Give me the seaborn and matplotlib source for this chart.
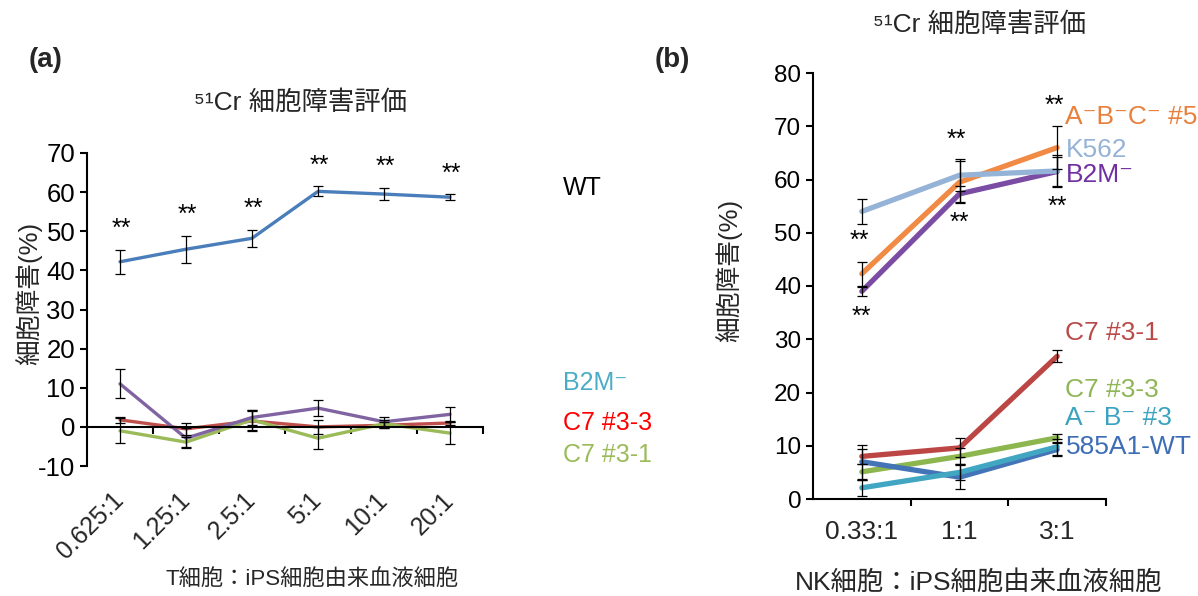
import numpy as np
import pandas as pd
import matplotlib
matplotlib.use("Agg")
import matplotlib.pyplot as plt
import seaborn as sns

# ---------------- data: panel (a) ----------------
ratios_a = ["0.625:1", "1.25:1", "2.5:1", "5:1", "10:1", "20:1"]
wt_a = [42.2, 45.4, 48.2, 60.2, 59.5, 58.7]
wt_a_err = [3.0, 3.5, 2.1, 1.3, 1.5, 0.7]
purple_a = [11.0, -2.9, 2.4, 4.8, 1.3, 3.2]
purple_a_err = [3.7, 2.5, 1.9, 2.0, 1.3, 2.0]
red_a = [1.8, -0.5, 1.5, 0.0, 0.4, 1.0]
red_a_err = [0.7, 1.5, 2.5, 1.8, 0.8, 0.6]
green_a = [-1.0, -3.9, 1.8, -2.9, 0.8, -1.6]
green_a_err = [3.2, 1.3, 2.5, 2.8, 1.0, 2.8]

# ---------------- data: panel (b) ----------------
ratios_b = ["0.33:1", "1:1", "3:1"]
b2m_b = [39.0, 57.3, 61.5]
b2m_b_err = [0.8, 1.5, 2.8]
abc5_b = [42.3, 59.5, 66.0]
abc5_b_err = [2.3, 4.0, 4.0]
k562_b = [54.0, 60.8, 61.6]
k562_b_err = [2.3, 3.0, 3.0]
c731_b = [8.0, 9.6, 26.8]
c731_b_err = [1.4, 1.8, 1.1]
c733_b = [5.1, 8.0, 11.5]
c733_b_err = [1.5, 1.5, 0.8]
wt585_b = [7.0, 4.1, 9.3]
wt585_b_err = [3.2, 2.2, 1.2]
ab3_b = [2.1, 5.0, 9.8]
ab3_b_err = [1.5, 1.5, 1.5]

sns.set_theme(style="white")
plt.rcParams["font.family"] = ["Liberation Sans", "Noto Sans CJK JP", "DejaVu Sans"]
plt.rcParams["axes.unicode_minus"] = False

W, H = 1198, 596
fig = plt.figure(figsize=(W / 100, H / 100), dpi=100)


def px_axes(x0, y0, x1, y1):
    return fig.add_axes([x0 / W, 1 - y1 / H, (x1 - x0) / W, (y1 - y0) / H])


def style_axes(ax):
    for s in ["top", "right"]:
        ax.spines[s].set_visible(False)
    for s in ["left", "bottom"]:
        ax.spines[s].set_color("black")
        ax.spines[s].set_linewidth(1.5)
    ax.tick_params(axis="y", which="major", direction="out", length=5, width=1.5,
                   color="black", left=True, labelcolor="black")
    ax.tick_params(axis="x", which="minor", direction="out", length=5, width=1.5,
                   color="black", bottom=True)
    ax.tick_params(axis="x", which="major", length=0, bottom=True)
    ax.grid(False)
    ax.set_facecolor("white")


STAR_FS = 18

# ====================== panel (a) ======================
axA = px_axes(87, 153, 483, 466)
series_a = [
    ("C7 red", red_a, red_a_err, "#c0504d"),
    ("C7 green", green_a, green_a_err, "#9bbb59"),
    ("B2M purple", purple_a, purple_a_err, "#8064a2"),
    ("WT", wt_a, wt_a_err, "#4a7ebb"),
]
rows = []
for name, vals, errs, col in series_a:
    for i, v in enumerate(vals):
        rows.append({"x": i, "y": v, "series": name})
dfA = pd.DataFrame(rows)
palA = {n: c for n, _, _, c in series_a}
sns.lineplot(data=dfA, x="x", y="y", hue="series", hue_order=[s[0] for s in series_a],
             palette=palA, linewidth=2.4, legend=False, sort=False, ax=axA)
for name, vals, errs, col in series_a:
    axA.errorbar(range(len(vals)), vals, yerr=errs, fmt="none", ecolor="black",
                 elinewidth=0.9, capsize=3.5, capthick=0.9, zorder=5)

style_axes(axA)
axA.set_xlim(-0.5, 5.5)
axA.set_ylim(-10, 70)
axA.set_yticks(np.arange(-10, 71, 10))
axA.set_yticklabels([str(v) for v in range(-10, 71, 10)], fontsize=18.5)
axA.spines["bottom"].set_position(("data", 0))
axA.set_xticks(range(len(ratios_a)))
axA.set_xticklabels(ratios_a, rotation=45, ha="right", va="center",
                    rotation_mode="anchor", fontsize=18)
axA.set_xticks(np.arange(0.5, 6, 1), minor=True)
axA.tick_params(axis="x", which="major", pad=50)
axA.set_xlabel("T細胞：iPS細胞由来血液細胞", fontsize=16)
axA.xaxis.set_label_coords((312 - 87) / 396, (466 - 580) / 313)
axA.xaxis.label.set_va("center")
axA.set_ylabel("細胞障害(%)", fontsize=18.5)
axA.yaxis.set_label_coords((42 - 87) / 396, (466 - 293) / 313)

for i, (v, e) in enumerate(zip(wt_a, wt_a_err)):
    axA.annotate("**", xy=(i, v + e), xytext=(1, 10), textcoords="offset points",
                 ha="center", va="baseline", fontsize=STAR_FS, color="black")

labels_a = [("WT", 61.1, "black"), ("B2M⁻", 11.3, "#4bacc6"),
            ("C7 #3-3", 1.0, "#ff0000"), ("C7 #3-1", -7.2, "#9bbb59")]
for txt, yy, col in labels_a:
    axA.text(6.71, yy, txt, color=col, fontsize=18, ha="left", va="center", clip_on=False)

# ====================== panel (b) ======================
axB = px_axes(813, 73, 1106, 499)
series_b = [
    ("B2M⁻", b2m_b, b2m_b_err, "#7b4ca3"),
    ("A⁻B⁻C⁻ #5", abc5_b, abc5_b_err, "#f08a45"),
    ("K562", k562_b, k562_b_err, "#95b3d7"),
    ("C7 #3-1", c731_b, c731_b_err, "#bb4644"),
    ("C7 #3-3", c733_b, c733_b_err, "#8db64f"),
    ("585A1-WT", wt585_b, wt585_b_err, "#4374b8"),
    ("A⁻ B⁻ #3", ab3_b, ab3_b_err, "#41a6c1"),
]
rows = []
for name, vals, errs, col in series_b:
    for i, v in enumerate(vals):
        rows.append({"x": i, "y": v, "series": name})
dfB = pd.DataFrame(rows)
palB = {n: c for n, _, _, c in series_b}
sns.lineplot(data=dfB, x="x", y="y", hue="series", hue_order=[s[0] for s in series_b],
             palette=palB, linewidth=3.8, legend=False, sort=False, ax=axB)
for name, vals, errs, col in series_b:
    axB.errorbar(range(len(vals)), vals, yerr=errs, fmt="none", ecolor="black",
                 elinewidth=0.9, capsize=3.5, capthick=0.9, zorder=5)

style_axes(axB)
axB.set_xlim(-0.5, 2.5)
axB.set_ylim(0, 80)
axB.set_yticks(np.arange(0, 81, 10))
axB.set_yticklabels([str(v) for v in range(0, 81, 10)], fontsize=17.5)
axB.set_xticks(range(len(ratios_b)))
axB.set_xticklabels(ratios_b, fontsize=19)
axB.set_xticks(np.arange(0.5, 3, 1), minor=True)
axB.tick_params(axis="x", which="major", pad=15)
axB.set_xlabel("NK細胞：iPS細胞由来血液細胞", fontsize=19)
axB.xaxis.set_label_coords((979 - 813) / 293, (499 - 583) / 426)
axB.xaxis.label.set_va("center")
axB.set_ylabel("細胞障害(%)", fontsize=18.5)
axB.yaxis.set_label_coords((742 - 813) / 293, (499 - 270) / 426)

for i in range(len(ratios_b)):
    hi = abc5_b[i] + abc5_b_err[i]
    lo = b2m_b[i] - b2m_b_err[i]
    axB.annotate("**", xy=(i, hi), xytext=(-2, 10), textcoords="offset points",
                 ha="center", va="baseline", fontsize=STAR_FS, color="black")
    axB.annotate("**", xy=(i, lo), xytext=(0, -20), textcoords="offset points",
                 ha="center", va="baseline", fontsize=STAR_FS, color="black")

labels_b = [("A⁻B⁻C⁻ #5", 71.7, "#e8803c"), ("K562", 65.5, "#95b3d7"),
            ("B2M⁻", 60.8, "#7030a0"), ("C7 #3-1", 31.2, "#b94a48"),
            ("C7 #3-3", 20.5, "#8fb656"), ("A⁻ B⁻ #3", 15.2, "#3ba3c0"),
            ("585A1-WT", 9.8, "#3d6db5")]
for txt, yy, col in labels_b:
    axB.text(2.085, yy, txt, color=col, fontsize=19, ha="left", va="center", clip_on=False)

# ---------------- titles and panel letters ----------------
fig.text(300 / W, 1 - 103 / H, "⁵¹Cr 細胞障害評価", fontsize=19, ha="center", va="center")
fig.text(980 / W, 1 - 25 / H, "⁵¹Cr 細胞障害評価", fontsize=19, ha="center", va="center")
fig.text(46 / W, 1 - 60 / H, "(a)", fontsize=20, fontweight="bold", ha="center", va="center")
fig.text(672 / W, 1 - 60 / H, "(b)", fontsize=20, fontweight="bold", ha="center", va="center")

fig.savefig("out.png", dpi=100, facecolor="white")
